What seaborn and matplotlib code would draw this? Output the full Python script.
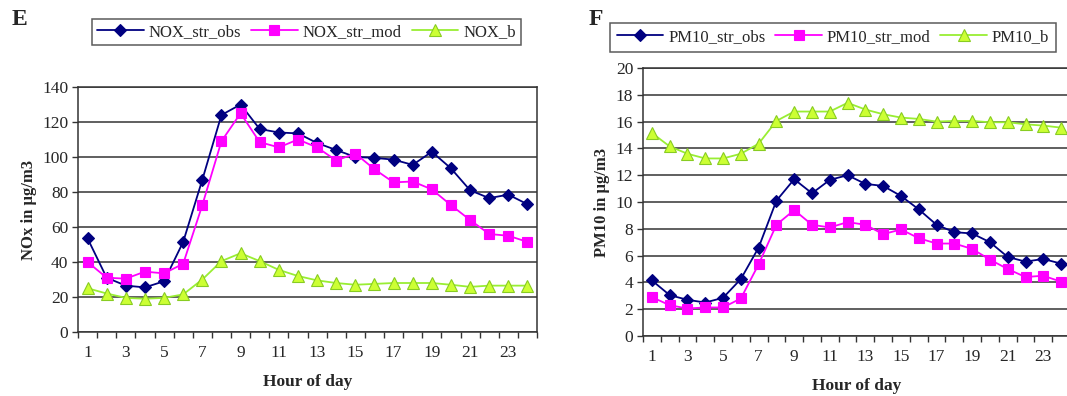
import matplotlib
matplotlib.use("Agg")
import matplotlib.pyplot as plt
from matplotlib.lines import Line2D
from matplotlib.ticker import MultipleLocator, FixedLocator
import numpy as np
import pandas as pd
import seaborn as sns

# Hourly mean concentrations (street observations, street model, background)
hours = list(range(1, 25))

nox_str_obs = [53.5, 31, 26.5, 25.5, 29, 51.5, 87, 124, 130, 116, 114, 113.5,
               108, 104, 100, 99.5, 98.5, 95.5, 103, 93.5, 81, 76.5, 78.5, 73]
nox_str_mod = [40, 31, 30.5, 34.5, 33.5, 39, 72.5, 109, 125, 108.5, 105.5, 110,
               105.5, 98, 102, 93, 85.5, 86, 81.5, 72.5, 64, 56, 55, 51.5]
nox_b = [25, 22, 19.5, 19, 19.5, 21.5, 30, 40.5, 45, 40.5, 35.5, 32,
         29.5, 28, 27, 27.5, 28, 28, 28, 27, 25.8, 26.5, 26.5, 26.5]

pm10_str_obs = [4.15, 3.05, 2.7, 2.5, 2.85, 4.25, 6.6, 10.1, 11.7, 10.65, 11.65, 12.0,
                11.35, 11.2, 10.45, 9.45, 8.3, 7.75, 7.65, 7.0, 5.9, 5.55, 5.75, 5.4]
pm10_str_mod = [2.9, 2.3, 2.05, 2.13, 2.13, 2.8, 5.35, 8.3, 9.4, 8.3, 8.1, 8.5,
                8.3, 7.6, 7.95, 7.3, 6.9, 6.9, 6.5, 5.7, 5.0, 4.4, 4.5, 4.05]
pm10_b = [15.15, 14.15, 13.6, 13.25, 13.25, 13.6, 14.35, 16.05, 16.75, 16.75, 16.75, 17.4,
          16.9, 16.55, 16.3, 16.2, 16.0, 16.05, 16.05, 15.95, 15.95, 15.8, 15.7, 15.55]

x_tick_labels = [str(h) for h in range(1, 24, 2)]

OBS = dict(color="#000080", marker="D", markersize=6.5, mfc="#000080", mec="#000080")
MOD = dict(color="#ff00ff", marker="s", markersize=6.5, mfc="#ff00ff", mec="#ff00ff")
BKG = dict(color="#99ee33", marker="^", markersize=8, mfc="#ccff33", mec="#88cc22")

sns.set_theme(style="white")
plt.rcParams["font.family"] = ["Liberation Serif", "DejaVu Serif"]

fig = plt.figure(figsize=(10.67, 3.96), dpi=100)
axE = fig.add_axes([0.0731, 0.1616, 0.4302, 0.6187])
axF = fig.add_axes([0.6026, 0.1515, 0.4002, 0.6768])


def draw_panel(ax, series, ymax, ystep, ylabel):
    for vals, style in zip(series, (OBS, MOD, BKG)):
        df = pd.DataFrame({"hour": hours, "value": vals})
        sns.lineplot(data=df, x="hour", y="value", ax=ax, linewidth=1.3,
                     markeredgewidth=0.8, legend=False, zorder=3, **style)
    ax.set_xlim(0.5, 24.5)
    ax.set_ylim(0, ymax)
    ax.yaxis.set_major_locator(MultipleLocator(ystep))
    ax.xaxis.set_major_locator(FixedLocator(range(1, 24, 2)))
    ax.set_xticklabels(x_tick_labels)
    ax.xaxis.set_minor_locator(FixedLocator(np.arange(0.5, 25, 1)))
    ax.tick_params(axis="x", which="major", length=0, pad=9, labelsize=12.5)
    ax.tick_params(axis="x", which="minor", length=4, width=1, direction="out",
                   color="#333333", bottom=True)
    ax.tick_params(axis="y", which="major", length=4, width=1, direction="out",
                   color="#333333", left=True, labelsize=12.5, pad=3)
    ax.grid(axis="y", color="#444444", linewidth=1.2)
    ax.grid(axis="x", visible=False)
    for s in ax.spines.values():
        s.set_color("#333333")
        s.set_linewidth(1.1)
    ax.set_xlabel("Hour of day", fontsize=12.5, fontweight="bold", labelpad=10)
    ax.set_ylabel(ylabel, fontsize=12, fontweight="bold", labelpad=4)
    return [Line2D([], [], linewidth=1.3, markeredgewidth=0.8, **st)
            for st in (OBS, MOD, BKG)]


hE = draw_panel(axE, [nox_str_obs, nox_str_mod, nox_b], 140, 20, "NOx in µg/m3")
hF = draw_panel(axF, [pm10_str_obs, pm10_str_mod, pm10_b], 20, 2, "PM10 in µg/m3")

legE = fig.legend(hE, ["NOX_str_obs", "NOX_str_mod", "NOX_b"], ncol=3,
                  loc="lower left", bbox_to_anchor=(0.0862, 0.8864, 0.4021, 0.0756),
                  mode="expand", frameon=True, fancybox=False, borderaxespad=0,
                  fontsize=12, handlelength=2.8, handletextpad=0.3,
                  borderpad=0.3, columnspacing=0.6)
legF = fig.legend(hF, ["PM10_str_obs", "PM10_str_mod", "PM10_b"], ncol=3,
                  loc="lower left", bbox_to_anchor=(0.5717, 0.8687, 0.418, 0.0833),
                  mode="expand", frameon=True, fancybox=False, borderaxespad=0,
                  fontsize=12, handlelength=2.8, handletextpad=0.3,
                  borderpad=0.4, columnspacing=0.6)
for leg in (legE, legF):
    leg.get_frame().set_edgecolor("#333333")
    leg.get_frame().set_linewidth(1.1)

fig.text(0.011, 0.95, "E", fontsize=17, fontweight="bold", va="center", ha="left")
fig.text(0.552, 0.95, "F", fontsize=17, fontweight="bold", va="center", ha="left")

fig.savefig("out.png", dpi=100, facecolor="white")
